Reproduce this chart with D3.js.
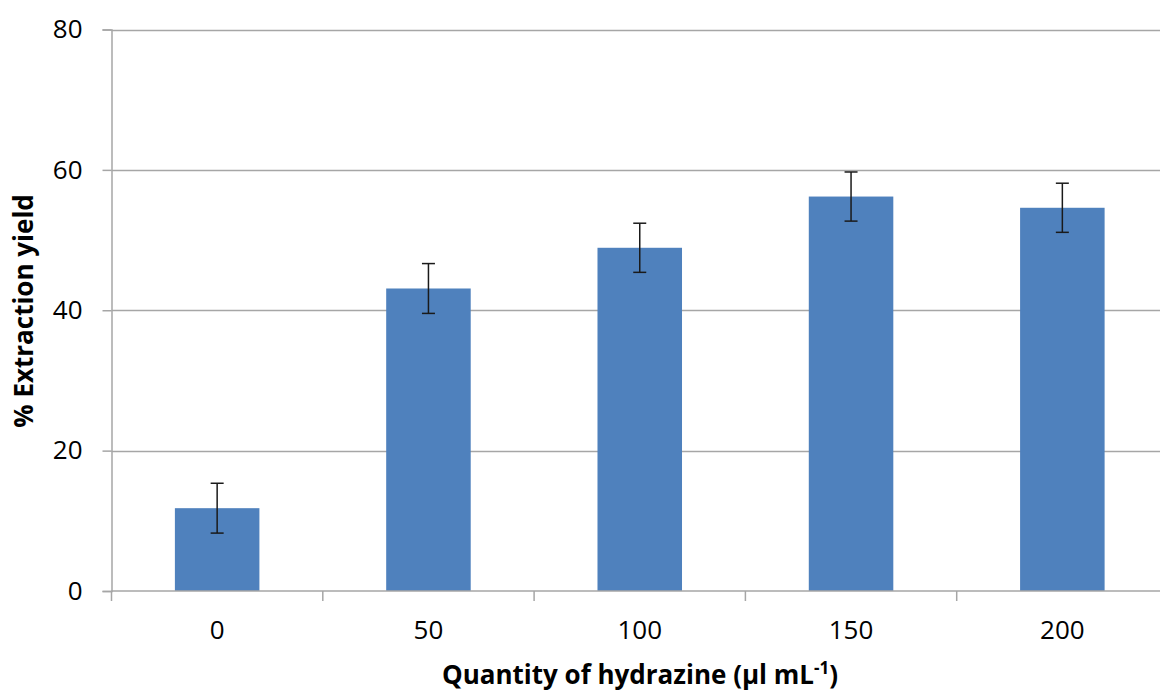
<!DOCTYPE html>
<html><head><meta charset="utf-8">
<script src="https://cdn.jsdelivr.net/npm/d3@7"></script>
<style>body{margin:0;background:#fff}svg{display:block}</style>
</head><body>
<svg id="c" width="1160" height="692"></svg>
<script>
const categories = ["0", "50", "100", "150", "200"];
const values = [11.8, 43.1, 48.9, 56.2, 54.6];
const errors = [3.55, 3.55, 3.5, 3.5, 3.5];
const yTicks = [0, 20, 40, 60, 80];
const xTitle = "Quantity of hydrazine (µl mL";
const yTitle = "% Extraction yield";

(function () {
const svg = d3.select("#c");
const mLeft = 111.5, mTop = 29.5, mBottom = 591, mRight = 1168;
const font = "'Open Sans', 'Liberation Sans', sans-serif";
const fs = 26;

const x = d3.scaleBand().domain(categories).range([mLeft, mRight]).padding(0);
const y = d3.scaleLinear().domain([0, 80]).range([mBottom, mTop]);

// gridlines
svg.append("g").selectAll("line").data(yTicks.filter(d => d > 0)).join("line")
  .attr("x1", mLeft).attr("x2", 1160)
  .attr("y1", d => Math.round(y(d)) + 0.5).attr("y2", d => Math.round(y(d)) + 0.5)
  .attr("stroke", "#a6a6a6").attr("stroke-width", 1.5);

// bars
const bw = x.bandwidth() * 0.4;
svg.append("g").selectAll("rect").data(values).join("rect")
  .attr("x", (d, i) => x(categories[i]) + x.bandwidth() / 2 - bw / 2)
  .attr("width", bw)
  .attr("y", d => y(d))
  .attr("height", d => mBottom - y(d))
  .attr("fill", "#4f81bd");

// axes
const yAxis = d3.axisLeft(y).tickValues(yTicks).tickSize(9).tickPadding(20);
const gy = svg.append("g").attr("transform", `translate(${mLeft},0)`).call(yAxis);
gy.select(".domain").attr("stroke", "#a6a6a6").attr("stroke-width", 1.5);
gy.selectAll(".tick line").attr("stroke", "#a6a6a6").attr("stroke-width", 1.5);
gy.selectAll("text").attr("font-family", font).attr("font-size", fs).attr("fill", "#000");

const xAxis = d3.axisBottom(x).tickSize(0).tickPadding(30);
const gx = svg.append("g").attr("transform", `translate(0,${mBottom})`).call(xAxis);
gx.select(".domain").attr("stroke", "#a6a6a6").attr("stroke-width", 1.5).attr("d", `M${mLeft},0H1160`);
gx.selectAll("text").attr("font-family", font).attr("font-size", fs).attr("fill", "#000");
// category boundary ticks
const bounds = categories.map(c => x(c)).concat([mRight]);
svg.append("g").selectAll("line").data(bounds).join("line")
  .attr("x1", d => d).attr("x2", d => d)
  .attr("y1", mBottom).attr("y2", mBottom + 10)
  .attr("stroke", "#a6a6a6").attr("stroke-width", 1.5);

// error bars
const eg = svg.append("g").attr("stroke", "#1a1a1a").attr("stroke-width", 1.5);
values.forEach((v, i) => {
  const cx = x(categories[i]) + x.bandwidth() / 2;
  eg.append("line").attr("x1", cx).attr("x2", cx).attr("y1", y(v + errors[i])).attr("y2", y(v - errors[i]));
  eg.append("line").attr("x1", cx - 6.5).attr("x2", cx + 6.5).attr("y1", y(v + errors[i])).attr("y2", y(v + errors[i]));
  eg.append("line").attr("x1", cx - 6.5).attr("x2", cx + 6.5).attr("y1", y(v - errors[i])).attr("y2", y(v - errors[i]));
});

// titles
const xt = svg.append("text").attr("x", 640).attr("y", 684).attr("text-anchor", "middle")
  .attr("font-family", font).attr("font-size", fs).attr("font-weight", "bold").attr("fill", "#000");
xt.append("tspan").text(xTitle);
xt.append("tspan").attr("dy", -10).attr("font-size", 17).text("-1");
xt.append("tspan").attr("dy", 10).text(")");

svg.append("text").attr("transform", "translate(33,311) rotate(-90)").attr("text-anchor", "middle")
  .attr("font-family", font).attr("font-size", fs).attr("font-weight", "bold").attr("fill", "#000")
  .text(yTitle);
})();
</script>
</body></html>
